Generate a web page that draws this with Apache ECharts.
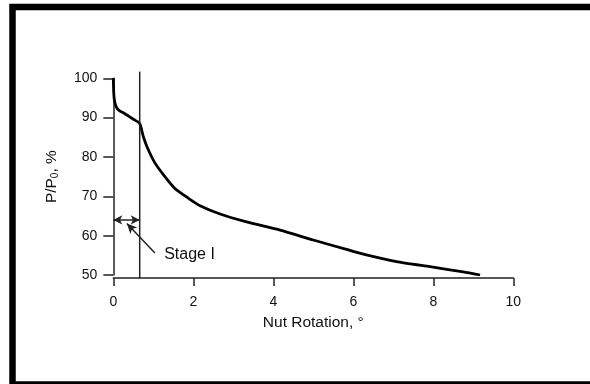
<!DOCTYPE html>
<html>
<head>
<meta charset="utf-8">
<script src="https://cdn.jsdelivr.net/npm/echarts@6/dist/echarts.min.js"></script>
<style>
  html, body { margin: 0; padding: 0; background: #fff; }
  #chart { width: 590px; height: 384px; }
</style>
</head>
<body>
<div id="chart"></div>
<script>
// nut rotation (deg) and remaining preload P/P0 (%)
const rotation = [0, 0.01, 0.03, 0.08, 0.15, 0.29, 0.5, 0.66, 0.75, 0.85, 1.04, 1.29, 1.54, 1.88, 2.17, 2.67, 3.33, 4.17, 5.0, 5.83, 6.25, 7.08, 7.92, 8.75, 9.17]
const loadRatio = [100, 96.5, 94.3, 92.6, 91.8, 91.0, 89.6, 88.5, 85.2, 82.4, 78.5, 75.0, 72.0, 69.5, 67.6, 65.5, 63.5, 61.4, 58.9, 56.5, 55.3, 53.4, 52.1, 50.8, 50.0]

// end of stage I
const stageEnd = 0.66
const stageArrowY = 64
const stageLabel = 'Stage I'

const axisColor = '#222'
const textColor = '#111'
const fontFamily = '"Liberation Sans", Arial, sans-serif'

const chart = echarts.init(document.getElementById('chart'))

const curve = rotation.map((x, i) => [x, loadRatio[i]])

chart.setOption({
  animation: false,
  grid: {
    left: 113.3,
    right: 76.7,
    top: 78.3,
    bottom: 109
  },
  xAxis: {
    type: 'value',
    min: 0,
    max: 10,
    interval: 2,
    offset: 3,
    name: 'Nut Rotation, \u00b0',
    nameLocation: 'middle',
    nameGap: 37,
    nameTextStyle: { color: textColor, fontSize: 15.5, fontFamily: fontFamily },
    axisLine: { lineStyle: { color: axisColor, width: 1.5 } },
    axisTick: { length: 8, lineStyle: { color: axisColor, width: 1.5 } },
    axisLabel: { color: textColor, fontSize: 14, fontFamily: fontFamily, margin: 17 },
    splitLine: { show: false }
  },
  yAxis: {
    type: 'value',
    min: 50,
    max: 100,
    interval: 10,
    offset: 2,
    name: 'P/P{sub|0}, %',
    nameLocation: 'middle',
    nameGap: 51,
    nameRotate: 90,
    nameTextStyle: {
      color: textColor, fontSize: 15.5, fontFamily: fontFamily,
      rich: { sub: { fontSize: 10, verticalAlign: 'bottom', padding: [7, 0, 0, 0], fontFamily: fontFamily, color: textColor } }
    },
    axisLine: { show: true, lineStyle: { color: axisColor, width: 1.5 } },
    axisTick: { show: true, length: 10, lineStyle: { color: axisColor, width: 1.5 } },
    axisLabel: { color: textColor, fontSize: 14, fontFamily: fontFamily, margin: 14 },
    splitLine: { show: false }
  },
  series: [
    {
      type: 'line',
      data: curve,
      showSymbol: false,
      smooth: 0.2,
      lineStyle: { color: '#000', width: 2.8 },
      markLine: {
        silent: true,
        label: { show: false },
        data: [
          [
            { coord: [0, stageArrowY], symbol: 'arrow', symbolSize: [7, 9] },
            { coord: [stageEnd, stageArrowY], symbol: 'arrow', symbolSize: [7, 9] }
          ],
          [
            { coord: [0.34, 63.1], symbol: 'arrow', symbolSize: [7, 10] },
            { coord: [1.04, 55.6], symbol: 'none' }
          ]
        ],
        lineStyle: { color: '#222', width: 1.5, type: 'solid' }
      },
      markPoint: {
        silent: true,
        symbol: 'rect',
        symbolSize: 1,
        itemStyle: { color: 'transparent' },
        data: [{
          coord: [1.26, 55.3],
          label: {
            show: true,
            formatter: stageLabel,
            position: 'right',
            distance: 0,
            color: textColor,
            fontSize: 16,
            fontFamily: fontFamily
          }
        }]
      }
    },
    {
      // boundary of stage I
      type: 'line',
      data: [[stageEnd, 49.24], [stageEnd, 101.7]],
      clip: false,
      showSymbol: false,
      lineStyle: { color: '#222', width: 1.5 }
    }
  ],
  graphic: [{
    type: 'rect',
    shape: { x: 12.5, y: 7, width: 600, height: 377.5 },
    style: { fill: 'none', stroke: '#000', lineWidth: 6.5 },
    silent: true
  }]
})
</script>
</body>
</html>
